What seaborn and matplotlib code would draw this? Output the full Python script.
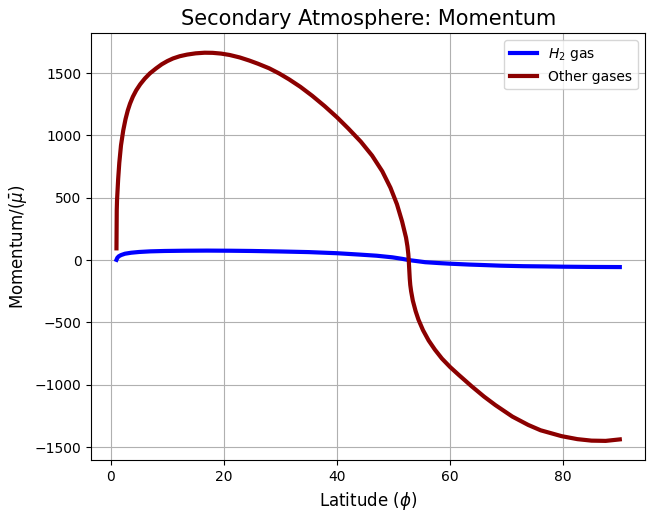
import numpy as np
import pandas as pd
import seaborn as sns
import matplotlib
matplotlib.use('Agg')
import matplotlib.pyplot as plt

# H2 gas momentum vs latitude
h2_lat = [1.0, 1.15, 1.4, 1.8, 2.5, 3.6, 5.0, 7.0, 9.5, 13.0, 17.0, 21.0, 25.0, 30.0,
          35.0, 40.0, 44.0, 47.0, 49.8, 51.5, 52.7, 54.4, 55.6, 58.0, 60.0, 63.4,
          66.0, 69.0, 73.0, 77.0, 80.0, 85.0, 90.0]
h2_mom = [2, 18, 30, 40, 51, 59, 65, 70, 73, 75, 76, 75, 73, 69,
          64, 55, 44, 35, 22, 10, 0, -10, -17, -24, -29, -36,
          -40, -45, -49, -51, -53, -55, -56]

# other gases momentum vs latitude
oth_lat = [1.0, 1.05, 1.1, 1.3, 1.5, 1.8, 2.2, 2.6, 3.0, 3.4, 3.9, 4.5, 5.2, 6.0,
           6.9, 8.0, 9.0, 10.0, 11.0, 12.2, 13.5, 15.0, 16.6, 18.0, 19.5, 21.0,
           22.8, 24.5, 26.0, 28.0, 29.75, 31.5, 33.5, 35.6, 37.8, 40.0, 42.0, 44.2,
           46.2, 48.0, 49.45, 50.6, 51.5, 52.2, 52.45, 52.6, 52.68, 52.78, 52.86,
           52.95, 53.1, 53.4, 53.9, 54.4, 55.2, 56.2, 57.3, 58.55, 60.0, 61.5, 63.8,
           66.0, 68.0, 71.0, 73.8, 76.0, 79.7, 82.5, 85.0, 87.5, 90.0]
oth_mom = [94, 400, 480, 650, 780, 920, 1040, 1130, 1200, 1255, 1310, 1362, 1410, 1455,
           1497, 1537, 1570, 1596, 1617, 1635, 1648, 1658, 1663, 1662, 1656, 1645,
           1625, 1600, 1575, 1538, 1497, 1450, 1390, 1318, 1235, 1145, 1055, 950,
           838, 712, 580, 447, 310, 180, 110, 50, 0, -85, -150,
           -200, -250, -325, -410, -478, -562, -645, -718, -790, -858, -920, -1012,
           -1095, -1163, -1255, -1322, -1365, -1412, -1436, -1448, -1450, -1438]

fig, ax = plt.subplots(figsize=(6.54, 5.18), dpi=100)
fig.subplots_adjust(left=0.1396, right=0.9862, top=0.9357, bottom=0.1114)

sns.lineplot(x=h2_lat, y=h2_mom, color='blue', linewidth=3, label='$H_2$ gas',
             ax=ax, sort=False, solid_joinstyle='round')
sns.lineplot(x=oth_lat, y=oth_mom, color='darkred', linewidth=3, label='Other gases',
             ax=ax, sort=False, solid_joinstyle='round')

ax.set_title('Secondary Atmosphere: Momentum', fontsize=15)
ax.set_xlabel('Latitude ($\\phi$)', fontsize=12)
ax.set_ylabel('Momentum/($\\bar{\\mu}$)', fontsize=12)
ax.grid(True)
ax.legend(loc='upper right')

fig.savefig('out.png', dpi=100)
